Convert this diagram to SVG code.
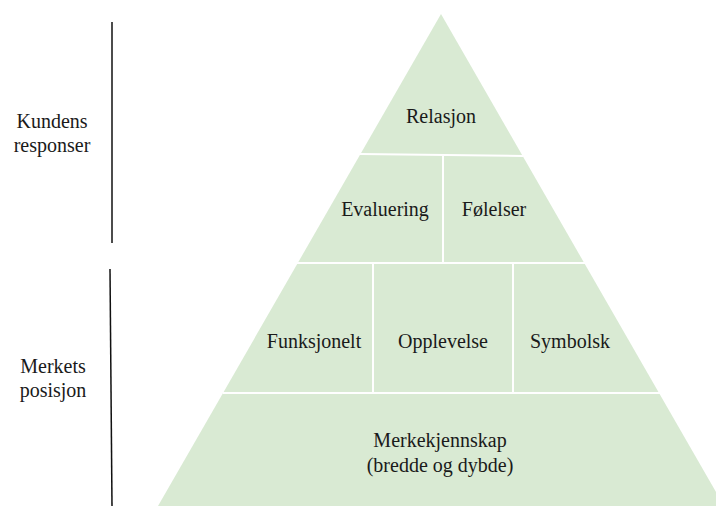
<svg xmlns="http://www.w3.org/2000/svg" width="716" height="506" viewBox="0 0 716 506">
<style>
.t{font-family:'Liberation Serif',serif;font-size:20px;fill:#1a1a1a;text-anchor:middle}
.sep{stroke:#ffffff;stroke-width:2;fill:none}
.bar{stroke:#111111;stroke-width:1.5;fill:none}
</style>
<rect width="716" height="506" fill="#ffffff"/>
<g id="pyramid">
<polygon points="441,14 158,506 724,506" fill="#d9ead3"/>
</g>
<g id="connectors">
<line class="sep" x1="360" y1="154" x2="523" y2="156"/>
<line class="sep" x1="443" y1="156" x2="443" y2="263"/>
<line class="sep" x1="297" y1="263" x2="585" y2="263"/>
<line class="sep" x1="373" y1="263" x2="373" y2="392"/>
<line class="sep" x1="513" y1="263" x2="513" y2="392"/>
<line class="sep" x1="223" y1="393" x2="660" y2="393"/>
<line class="bar" x1="112" y1="22" x2="112" y2="243"/>
<line class="bar" x1="110" y1="269" x2="112" y2="506"/>
</g>
<g id="relasjon"><text class="t" x="441" y="123">Relasjon</text></g>
<g id="evaluering"><text class="t" x="385" y="216">Evaluering</text></g>
<g id="folelser"><text class="t" x="494" y="216">Følelser</text></g>
<g id="funksjonelt"><text class="t" x="314" y="348">Funksjonelt</text></g>
<g id="opplevelse"><text class="t" x="443" y="348">Opplevelse</text></g>
<g id="symbolsk"><text class="t" x="570" y="348">Symbolsk</text></g>
<g id="merkekjennskap"><text class="t" x="440" y="447">Merkekjennskap</text><text class="t" x="440" y="472">(bredde og dybde)</text></g>
<g id="kundens"><text class="t" x="52" y="128">Kundens</text><text class="t" x="52" y="152">responser</text></g>
<g id="merkets"><text class="t" x="53" y="373">Merkets</text><text class="t" x="53" y="397">posisjon</text></g>
</svg>
